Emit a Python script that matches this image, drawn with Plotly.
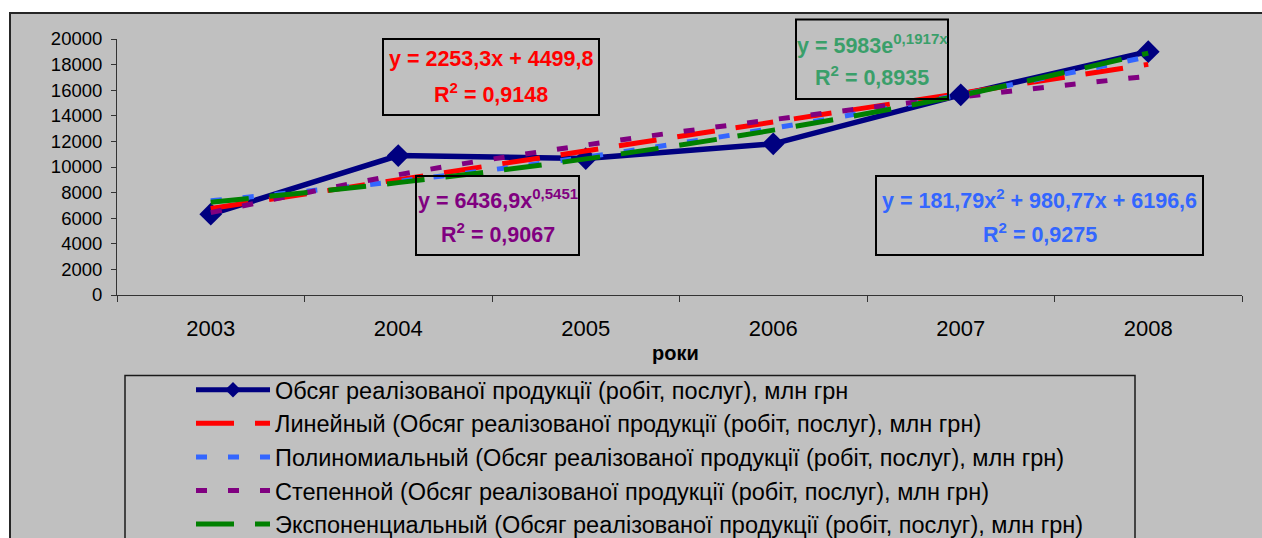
import plotly.graph_objects as go

# Years and sales volume, mln UAH
years = ["2003", "2004", "2005", "2006", "2007", "2008"]
volume = [6310, 10890, 10660, 11810, 15640, 19010]

# Trend values at each year (x = 1..6) from the fitted equations
trend_linear = [6753.1, 9006.4, 11259.7, 13513.0, 15766.3, 18019.6]
trend_poly = [7359.2, 8885.3, 10775.0, 13028.3, 15645.2, 18625.7]
trend_power = [6436.9, 9392.0, 11715.1, 13704.0, 15476.9, 17093.5]
trend_exp = [7247.2, 8778.6, 10633.4, 12880.4, 15602.6, 18899.3]

y_ticks = list(range(0, 20001, 2000))

series_name = "Обсяг реалізованої продукції (робіт, послуг), млн грн"
names = {
    "lin": "Линейный (" + series_name + ")",
    "poly": "Полиномиальный (" + series_name + ")",
    "pow": "Степенной (" + series_name + ")",
    "exp": "Экспоненциальный (" + series_name + ")",
}

W, H = 1262, 538
L, R, T, B = 117, 20, 39, 243
PW, PH = W - L - R, H - T - B
FONT = "Liberation Sans, Arial, sans-serif"


def px(x):
    return (x - L) / PW


def py(y):
    return (H - B - y) / PH


fig = go.Figure()

fig.add_trace(go.Scatter(
    x=years, y=volume, name=series_name, mode="lines+markers",
    line=dict(color="#000080", width=5.5),
    marker=dict(symbol="diamond", size=17.5, color="#000080"),
))
fig.add_trace(go.Scatter(
    x=years, y=trend_linear, name=names["lin"], mode="lines",
    line=dict(color="#FF0000", width=5, dash="38px,21px"),
))
fig.add_trace(go.Scatter(
    x=years, y=trend_poly, name=names["poly"], mode="lines",
    line=dict(color="#3366FF", width=5, dash="11px,21px", shape="spline"),
))
fig.add_trace(go.Scatter(
    x=years, y=trend_power, name=names["pow"], mode="lines",
    line=dict(color="#800080", width=5, dash="11px,21px", shape="spline"),
))
fig.add_trace(go.Scatter(
    x=years, y=trend_exp, name=names["exp"], mode="lines",
    line=dict(color="#008000", width=5, dash="38px,21px", shape="spline"),
))

shapes = [
    # chart area background with frame
    dict(type="rect", xref="paper", yref="paper", layer="below",
         x0=px(10), x1=px(1300), y0=py(13), y1=py(700),
         fillcolor="#C0C0C0", line=dict(color="#262626", width=2)),
    # legend frame
    dict(type="rect", xref="paper", yref="paper", layer="below",
         x0=px(125), x1=px(1135), y0=py(375.5), y1=py(700),
         fillcolor="rgba(0,0,0,0)", line=dict(color="#1a1a1a", width=1.5)),
]

# equation boxes: (x0, x1, y0, y1, color, line1, line2, line1_y, line2_y)
boxes = [
    (383, 599, 39, 115, "#FF0000", "y = 2253,3x + 4499,8", "R<sup>2</sup> = 0,9148", 59, 92.5),
    (416, 579, 176, 255, "#800080", "y = 6436,9x<sup>0,5451</sup>", "R<sup>2</sup> = 0,9067", 199, 232.5),
    (796, 948, 19.5, 99, "#3A9F6A", "y = 5983e<sup>0,1917x</sup>", "R<sup>2</sup> = 0,8935", 43.5, 75.5),
    (876, 1203, 176, 255, "#3366FF", "y = 181,79x<sup>2</sup> + 980,77x + 6196,6", "R<sup>2</sup> = 0,9275", 199, 232.5),
]

annotations = []
for x0, x1, y0, y1, col, t1, t2, ly1, ly2 in boxes:
    shapes.append(dict(type="rect", xref="paper", yref="paper", layer="above",
                       x0=px(x0), x1=px(x1), y0=py(y0), y1=py(y1),
                       line=dict(color="#000000", width=2)))
    cx = px((x0 + x1) / 2)
    for txt, ly in ((t1, ly1), (t2, ly2)):
        annotations.append(dict(xref="paper", yref="paper", x=cx, y=py(ly),
                                xanchor="center", yanchor="middle", showarrow=False,
                                text="<b>" + txt + "</b>",
                                font=dict(family=FONT, size=21.5, color=col)))

annotations.append(dict(xref="paper", yref="paper", x=px(675), y=py(353),
                        xanchor="center", yanchor="middle", showarrow=False,
                        text="<b>роки</b>",
                        font=dict(family=FONT, size=20, color="#000000")))

fig.update_layout(
    width=W, height=H,
    margin=dict(l=L, r=R, t=T, b=B, pad=0, autoexpand=False),
    paper_bgcolor="#FFFFFF",
    plot_bgcolor="rgba(0,0,0,0)",
    font=dict(family=FONT, color="#000000"),
    shapes=shapes,
    annotations=annotations,
    showlegend=True,
    legend=dict(
        x=px(191), y=py(368), xanchor="left", yanchor="top",
        bgcolor="rgba(0,0,0,0)", borderwidth=0,
        font=dict(family=FONT, size=23.5, color="#000000"),
        itemwidth=74, itemsizing="constant",
        itemclick=False, itemdoubleclick=False,
    ),
    xaxis=dict(
        type="category", tickson="boundaries", ticks="outside", ticklen=6,
        tickcolor="#333333", showline=True, linecolor="#333333", linewidth=1,
        showgrid=False, zeroline=False, ticklabelstandoff=14,
        tickfont=dict(family=FONT, size=22, color="#000000"),
        range=[-0.5, 5.5],
    ),
    yaxis=dict(
        range=[0, 20000], tickvals=y_ticks, tickformat="d", ticks="outside", ticklen=5,
        tickcolor="#333333", showline=True, linecolor="#333333", linewidth=1,
        showgrid=False, zeroline=False, ticklabelstandoff=5,
        tickfont=dict(family=FONT, size=18.5, color="#000000"),
    ),
)

fig.write_html("out.html")
